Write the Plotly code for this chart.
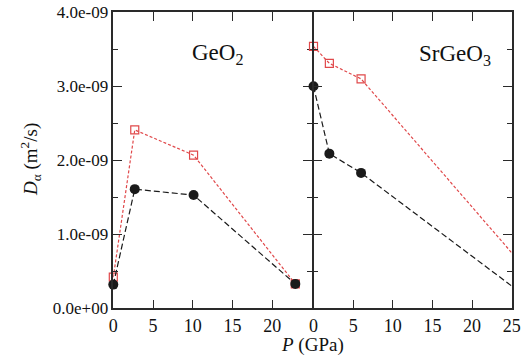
import plotly.graph_objects as go

# Diffusion coefficient vs pressure (GPa), two systems
geo2_p = [0, 2.7, 10.1, 22.9]
geo2_red = [0.42e-9, 2.41e-9, 2.07e-9, 0.33e-9]
geo2_black = [0.32e-9, 1.61e-9, 1.53e-9, 0.33e-9]

srgeo3_p = [0, 2.0, 6.0, 28.0]
srgeo3_red = [3.54e-9, 3.31e-9, 3.10e-9, 0.38e-9]
srgeo3_black = [3.00e-9, 2.09e-9, 1.83e-9, 0.06e-9]

ytick_vals = [0, 1e-9, 2e-9, 3e-9, 4e-9]
ytick_text = ["0.0e+00", "1.0e-09", "2.0e-09", "3.0e-09", "4.0e-09"]

FONT = "Liberation Serif"
RED = "#e0484a"
BLACK = "#1a1a1a"
AXIS = "#2a2a2a"
LW = 1.5
P_MAX = 25

W, H = 532, 361
x0, xm, x1 = 113.3, 312.0, 511.7
ytop, ybot = 12.3, 308.3

fig = go.Figure()

def add_series(p, v, xa, ya, color, dash, marker):
    # dashed connecting line, clipped to the panel
    fig.add_trace(go.Scatter(
        x=p, y=v, xaxis=xa, yaxis=ya, mode="lines",
        line=dict(color=color, width=1.2, dash=dash),
        cliponaxis=True, showlegend=False))
    # symbols for the points inside the pressure range, never clipped
    inside = [(a, b) for a, b in zip(p, v) if a <= P_MAX]
    fig.add_trace(go.Scatter(
        x=[a for a, _ in inside], y=[b for _, b in inside],
        xaxis=xa, yaxis=ya, mode="markers", marker=marker,
        cliponaxis=False, showlegend=False))

def add_panel(p, red, black, xa, ya):
    add_series(p, red, xa, ya, RED, "3px,2px",
               dict(symbol="square-open", size=8, color=RED, line=dict(width=1.2)))
    add_series(p, black, xa, ya, BLACK, "6px,3px",
               dict(symbol="circle", size=10, color=BLACK))

add_panel(geo2_p, geo2_red, geo2_black, "x", "y")
add_panel(srgeo3_p, srgeo3_red, srgeo3_black, "x2", "y2")

common_x = dict(range=[0, P_MAX], showline=True, linecolor=AXIS, linewidth=LW,
                mirror="ticks", ticks="inside", ticklen=9, tickwidth=1.2,
                tickcolor=AXIS, showgrid=False, zeroline=False, automargin=False,
                tickfont=dict(family=FONT, size=18, color="#111"))
common_y = dict(range=[0, 4e-9], showline=True, linecolor=AXIS, linewidth=LW,
                mirror="ticks", ticks="inside", ticklen=9, tickwidth=1.2,
                tickcolor=AXIS, showgrid=False, zeroline=False, automargin=False,
                tickvals=ytick_vals,
                minor=dict(ticks="inside", ticklen=5, tickwidth=1.2,
                           tickcolor=AXIS, dtick=0.5e-9, tick0=0),
                domain=[1 - ybot / H, 1 - ytop / H])

fig.update_layout(
    template="none",
    width=W, height=H,
    margin=dict(l=0, r=0, t=0, b=0, autoexpand=False),
    paper_bgcolor="white", plot_bgcolor="white",
    xaxis=dict(common_x, domain=[x0 / W, xm / W], tickvals=[0, 5, 10, 15, 20],
               anchor="y"),
    # the shared middle frame line: right panel starts one line-width later
    xaxis2=dict(common_x, domain=[(xm + LW) / W, x1 / W],
                tickvals=[0, 5, 10, 15, 20, 25], anchor="y2"),
    yaxis=dict(common_y, ticktext=ytick_text, anchor="x",
               tickfont=dict(family=FONT, size=17, color="#111")),
    yaxis2=dict(common_y, showticklabels=False, anchor="x2"),
    annotations=[
        dict(text="GeO<sub>2</sub>", x=13.1, y=3.44e-9, xref="x", yref="y",
             showarrow=False, font=dict(family=FONT, size=23, color="#111")),
        dict(text="SrGeO<sub>3</sub>", x=17.8, y=3.42e-9, xref="x2", yref="y2",
             showarrow=False, font=dict(family=FONT, size=23, color="#111")),
        dict(text="<i>P</i> (GPa)", x=xm / W, y=1 - 345 / H, xref="paper", yref="paper",
             xanchor="center", yanchor="middle",
             showarrow=False, font=dict(family=FONT, size=19, color="#111")),
        dict(text="<i>D</i><sub>α</sub> (m<sup>2</sup>/s)", x=30 / W, y=1 - 160 / H,
             xref="paper", yref="paper", textangle=-90, showarrow=False,
             xanchor="center", yanchor="middle",
             font=dict(family=FONT, size=19, color="#111")),
    ],
)

fig.write_html("out.html")
